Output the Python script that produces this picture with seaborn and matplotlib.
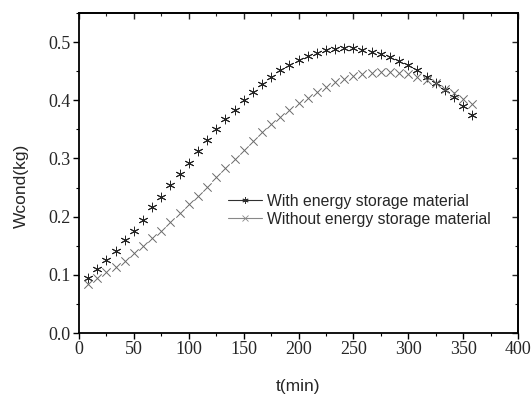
import matplotlib
matplotlib.use("Agg")
import matplotlib.pyplot as plt
from matplotlib.lines import Line2D
from matplotlib.ticker import MultipleLocator
import seaborn as sns
import pandas as pd

# ---- data ----
time_min = [8.3, 16.7, 25.0, 33.3, 41.7, 50.0, 58.3, 66.7, 75.0, 83.3,
            91.7, 100.0, 108.3, 116.7, 125.0, 133.3, 141.7, 150.0, 158.3, 166.7,
            175.0, 183.3, 191.7, 200.0, 208.3, 216.7, 225.0, 233.3, 241.7, 250.0,
            258.3, 266.7, 275.0, 283.3, 291.7, 300.0, 308.3, 316.7, 325.0, 333.3,
            341.7, 350.0, 358.3]
with_esm = [0.094, 0.110, 0.125, 0.141, 0.159, 0.176, 0.195, 0.216, 0.234, 0.254,
            0.274, 0.293, 0.312, 0.331, 0.350, 0.368, 0.384, 0.400, 0.414, 0.428,
            0.440, 0.452, 0.461, 0.469, 0.476, 0.482, 0.486, 0.488, 0.489, 0.489,
            0.487, 0.483, 0.479, 0.474, 0.467, 0.460, 0.452, 0.440, 0.429, 0.417,
            0.405, 0.391, 0.375]
without_esm = [0.084, 0.094, 0.104, 0.114, 0.124, 0.137, 0.149, 0.163, 0.176, 0.191,
               0.206, 0.222, 0.236, 0.251, 0.268, 0.283, 0.299, 0.314, 0.330, 0.345,
               0.359, 0.372, 0.384, 0.395, 0.404, 0.414, 0.423, 0.431, 0.437, 0.442,
               0.445, 0.447, 0.448, 0.448, 0.447, 0.445, 0.440, 0.435, 0.429, 0.420,
               0.412, 0.402, 0.393]
series_names = ["With energy storage material", "Without energy storage material"]
x_ticks = [0, 50, 100, 150, 200, 250, 300, 350, 400]
y_ticks = [0.0, 0.1, 0.2, 0.3, 0.4, 0.5]

df = pd.DataFrame({
    "t": time_min * 2,
    "W": with_esm + without_esm,
    "series": [series_names[0]] * len(time_min) + [series_names[1]] * len(time_min),
})

sns.set_style("white")
plt.rcParams["font.family"] = ["Liberation Sans", "DejaVu Sans"]

fig = plt.figure(figsize=(5.31, 3.97), dpi=100)
ax = fig.add_axes([79 / 531, 1 - 333 / 397, (518 - 79) / 531, (333 - 13) / 397])

colors = {series_names[0]: "#262626", series_names[1]: "#6a6a6a"}
markers = {series_names[0]: (6, 2, 0), series_names[1]: "x"}
sizes = {series_names[0]: 40, series_names[1]: 36}

for name in series_names:
    sub = df[df["series"] == name]
    sns.scatterplot(data=sub, x="t", y="W", ax=ax, color=colors[name],
                    marker=markers[name], s=sizes[name], linewidth=0.7,
                    legend=False)

ax.set_xlim(0, 400)
ax.set_ylim(0, 0.55)
ax.set_xticks(x_ticks)
ax.set_yticks(y_ticks)
ax.set_xticklabels([str(v) for v in x_ticks], family="Liberation Serif", fontsize=13)
ax.set_yticklabels([f"{v:.1f}" for v in y_ticks], family="Liberation Serif", fontsize=13)
ax.xaxis.set_minor_locator(MultipleLocator(25))
ax.yaxis.set_minor_locator(MultipleLocator(0.05))
ax.tick_params(which="major", direction="out", length=4, width=1.0, color="black",
               bottom=True, left=True, pad=2)
ax.tick_params(which="minor", direction="out", length=2.5, width=0.8, color="black",
               bottom=True, left=True)

for sp in ax.spines.values():
    sp.set_visible(True)
    sp.set_color("black")
    sp.set_linewidth(1.3)

# top/right inward ticks
top = ax.secondary_xaxis("top")
top.set_xticks(x_ticks)
top.xaxis.set_minor_locator(MultipleLocator(25))
top.tick_params(which="major", direction="in", length=4, width=1.0, labeltop=False)
top.tick_params(which="minor", direction="in", length=2.5, width=0.8)
right = ax.secondary_yaxis("right")
right.set_yticks(y_ticks)
right.yaxis.set_minor_locator(MultipleLocator(0.05))
right.tick_params(which="major", direction="in", length=4, width=1.0, labelright=False)
right.tick_params(which="minor", direction="in", length=2.5, width=0.8)
for s in (top, right):
    for sp in s.spines.values():
        sp.set_linewidth(1.3)

ax.set_xlabel("t(min)", fontsize=12.5)
ax.xaxis.set_label_coords(0.5, -0.145)
ax.set_ylabel("Wcond(kg)", fontsize=12.5)
ax.yaxis.set_label_coords(-0.115, 0.46)

handles = [
    Line2D([0], [0], color="#303030", marker=(6, 2, 0), markersize=4.5,
           linewidth=0.8, markeredgewidth=0.6),
    Line2D([0], [0], color="#888888", marker="x", markersize=4.5,
           linewidth=0.8, markeredgewidth=0.6),
]
ax.legend(handles, series_names, loc="upper left", bbox_to_anchor=(0.325, 0.455),
          frameon=False, fontsize=11.3, handlelength=2.2, handletextpad=0.3,
          labelspacing=0.2, borderaxespad=0)

fig.savefig("out.png", dpi=100, facecolor="white")
